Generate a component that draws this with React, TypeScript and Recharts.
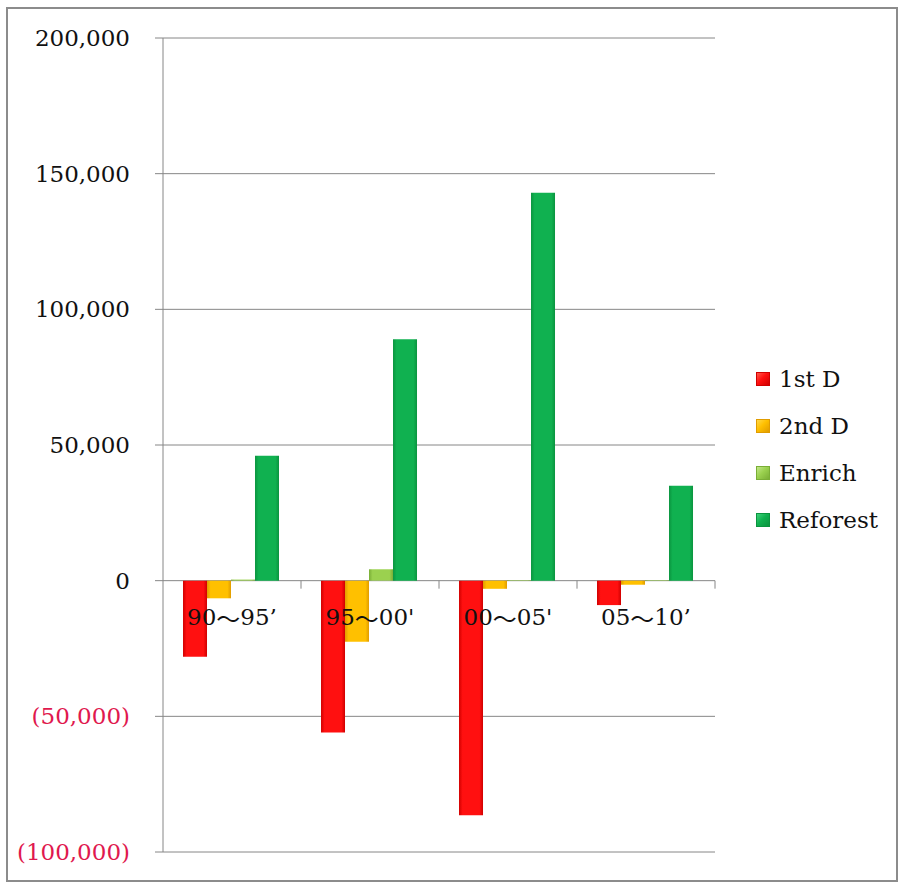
import React from 'react';
import { BarChart, Bar, XAxis, YAxis, CartesianGrid } from 'recharts';

// Change in forest area by period and category
const periods = ['90～95’', "95～00'", "00～05'", '05～10’'];
const firstD = [-28000, -56000, -86500, -9000];
const secondD = [-6500, -22500, -3000, -1500];
const enrich = [400, 4200, 200, 200];
const reforest = [46000, 89000, 143000, 35000];
const yTicks = [-100000, -50000, 0, 50000, 100000, 150000, 200000];
const yDomain: [number, number] = [-100000, 200000];

const seriesNames = ['1st D', '2nd D', 'Enrich', 'Reforest'];
const seriesKeys = ['firstD', 'secondD', 'enrich', 'reforest'];
const seriesColors = [
  { base: '#ff1010', edge: '#d00000', light: '#ff5a4a' },
  { base: '#ffc000', edge: '#e09c00', light: '#ffd84a' },
  { base: '#9bd14f', edge: '#7aae36', light: '#c2e68a' },
  { base: '#10b150', edge: '#0a943f', light: '#3fd27a' },
];

const data = periods.map((p, i) => ({
  period: p,
  firstD: firstD[i],
  secondD: secondD[i],
  enrich: enrich[i],
  reforest: reforest[i],
}));

const W = 898;
const H = 882;
const margin = { top: 38, right: 183, bottom: 29, left: 0 };
const xAxisHeight = 1;
const yAxisWidth = 163;
const plotTop = margin.top;
const plotH = H - margin.top - margin.bottom - xAxisHeight;
const plotW = W - margin.right - margin.left - yAxisWidth;
const zeroY = plotTop + ((yDomain[1] - 0) / (yDomain[1] - yDomain[0])) * plotH;
const band = plotW / periods.length;

const FONT = '"DejaVu Serif", serif';
const CJK = '"Noto Sans CJK JP", sans-serif';
const GRID = '#868686';
const NEG = '#e0184e';

const fmt = (v: number) => {
  const s = Math.abs(v).toLocaleString('en-US');
  return v < 0 ? `(${s})` : s;
};

const ValueTick = (props: any) => {
  const { x, y, payload } = props;
  const v = payload.value as number;
  return (
    <text
      x={x}
      y={y}
      textAnchor="end"
      dominantBaseline="central"
      fontFamily={FONT}
      fontSize={23}
      fill={v < 0 ? NEG : '#111'}
    >
      {fmt(v)}
    </text>
  );
};

const CategoryTick = (props: any) => {
  const { x, payload } = props;
  const [from, to] = String(payload.value).split('～');
  return (
    <g>
      <line x1={x + band / 2} x2={x + band / 2} y1={zeroY} y2={zeroY + 8} stroke={GRID} strokeWidth={1} />
      <text
        x={x}
        y={zeroY + 36}
        textAnchor="middle"
        dominantBaseline="central"
        fontFamily={FONT}
        fontSize={23}
        fill="#111"
      >
        <tspan>{from}</tspan>
        <tspan fontFamily={CJK} fontSize={24}>～</tspan>
        <tspan>{to}</tspan>
      </text>
    </g>
  );
};

export default function App() {
  return (
    <div style={{ position: 'absolute', left: 0, top: 0, width: W, height: H, background: '#fff' }}>
      <div
        style={{
          position: 'absolute',
          left: 6,
          top: 7,
          width: W - 6,
          height: H - 7,
          border: '2px solid #8c8c8c',
          boxSizing: 'border-box',
        }}
      />
      <div style={{ position: 'absolute', left: 0, top: 0 }}>
        <BarChart width={W} height={H} data={data} margin={margin} barCategoryGap="14.5%" barGap={0}>
          <defs>
            {seriesColors.map((c, i) => (
              <linearGradient key={i} id={`g${i}`} x1="0" y1="0" x2="1" y2="0">
                <stop offset="0" stopColor={c.edge} />
                <stop offset="0.15" stopColor={c.base} />
                <stop offset="0.85" stopColor={c.base} />
                <stop offset="1" stopColor={c.edge} />
              </linearGradient>
            ))}
          </defs>
          <CartesianGrid vertical={false} stroke={GRID} strokeWidth={1} />
          <YAxis
            width={yAxisWidth}
            domain={yDomain}
            ticks={yTicks}
            interval={0}
            axisLine={{ stroke: GRID }}
            tickLine={{ stroke: GRID }}
            tickSize={8}
            tickMargin={25}
            tick={<ValueTick />}
          />
          {seriesKeys.map((k, i) => (
            <Bar key={k} dataKey={k} name={seriesNames[i]} fill={`url(#g${i})`} isAnimationActive={false} />
          ))}
          <XAxis
            dataKey="period"
            height={xAxisHeight}
            axisLine={false}
            tickLine={false}
            interval={0}
            tick={<CategoryTick />}
          />
        </BarChart>
      </div>
      <div style={{ position: 'absolute', left: 756, top: 355, fontFamily: FONT, fontSize: 23, color: '#111' }}>
        {seriesNames.map((n, i) => (
          <div key={n} style={{ display: 'flex', alignItems: 'center', height: 47 }}>
            <span
              style={{
                display: 'inline-block',
                width: 14,
                height: 14,
                marginRight: 9,
                background: `linear-gradient(135deg, ${seriesColors[i].light}, ${seriesColors[i].base} 45%, ${seriesColors[i].edge})`,
                border: `1px solid ${seriesColors[i].edge}`,
                boxSizing: 'border-box',
              }}
            />
            <span>{n}</span>
          </div>
        ))}
      </div>
    </div>
  );
}
